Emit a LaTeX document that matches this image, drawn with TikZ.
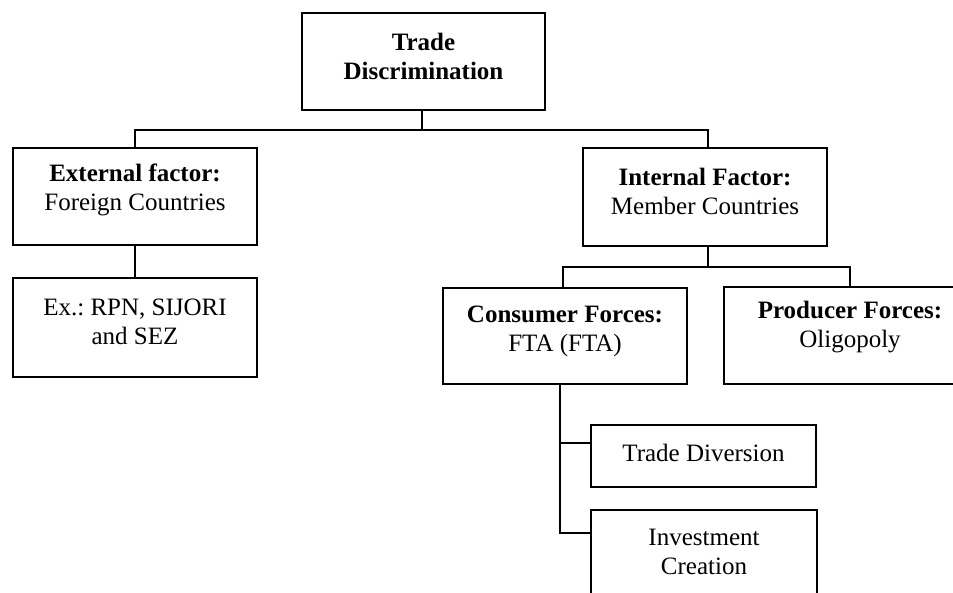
\documentclass[tikz,border=0pt]{standalone}
\usepackage{fontspec}
\setmainfont{Liberation Serif}
\usetikzlibrary{calc}
\frenchspacing
\begin{document}
\begin{tikzpicture}[x=1pt,y=-1pt,
  box/.style={draw=black, line width=1.7pt, rectangle, inner sep=0pt},
  txt/.style={align=center, inner sep=0pt, font=\fontsize{25}{29}\selectfont},
  link/.style={draw=black, line width=1.7pt}]
\useasboundingbox (0,0) rectangle (953,593);
\clip (0,0) rectangle (953,593);
% boxes
\node[box, minimum width=243pt, minimum height=97pt] (top)  at (423.5,61.5) {};
\node[box, minimum width=244pt, minimum height=97pt] (ext)  at (135,196.5) {};
\node[box, minimum width=244pt, minimum height=99pt] (ex)   at (135,327.5) {};
\node[box, minimum width=244pt, minimum height=98pt] (int)  at (705,197) {};
\node[box, minimum width=244pt, minimum height=96pt] (cons) at (565,336) {};
\node[box, minimum width=252pt, minimum height=97pt] (prod) at (850,335.5) {};
\node[box, minimum width=225pt, minimum height=62pt] (td)   at (703.5,456) {};
\node[box, minimum width=226pt, minimum height=97pt] (inv)  at (704,558.5) {};
% texts
\node[txt, yshift=5pt]   (top-t)  at (top.center)  {\textbf{Trade}\\\textbf{Discrimination}};
\node[txt, yshift=6.5pt] (ext-t)  at (ext.center)  {\textbf{External factor:}\\Foreign Countries};
\node[txt, yshift=6pt]   (ex-t)   at (ex.center)   {Ex.: RPN, SIJORI\\and SEZ};
\node[txt, yshift=6pt]   (int-t)  at (int.center)  {\textbf{Internal Factor:}\\Member Countries};
\node[txt, yshift=5pt]   (cons-t) at (cons.center) {\textbf{Consumer Forces:}\\FTA (FTA)};
\node[txt, yshift=8pt]   (prod-t) at (prod.center) {\textbf{Producer Forces:}\\Oligopoly};
\node[txt, yshift=3pt]   (td-t)   at (td.center)   {Trade Diversion};
\node[txt, yshift=7pt]   (inv-t)  at (inv.center)  {Investment\\Creation};
% connectors
\coordinate (j1) at ($(top.south)+(-1.5,19)$);
\draw[link] ($(top.south)+(-1.5,0)$) -- (j1);
\draw[link] (ext.north) -- (ext.north |- j1) -- ($(int.north |- j1)+(3,0)$) -- ($(int.north)+(3,0)$);
\draw[link] (ext.south) -- (ex.north);
\coordinate (j2) at ($(int.south)+(3,20)$);
\draw[link] ($(int.south)+(3,0)$) -- (j2);
\draw[link] ($(cons.north)+(-2,0)$) -- ($(cons.north |- j2)+(-2,0)$) -- (prod.north |- j2) -- (prod.north);
\coordinate (c0) at ($(cons.south)+(-5,0)$);
\draw[link] (c0) -- (c0 |- {$(inv.north west)+(0,24)$}) -- ($(inv.north west)+(0,24)$);
\draw[link] (c0 |- {$(td.west)+(0,-13)$}) -- ($(td.west)+(0,-13)$);
\end{tikzpicture}
\end{document}
